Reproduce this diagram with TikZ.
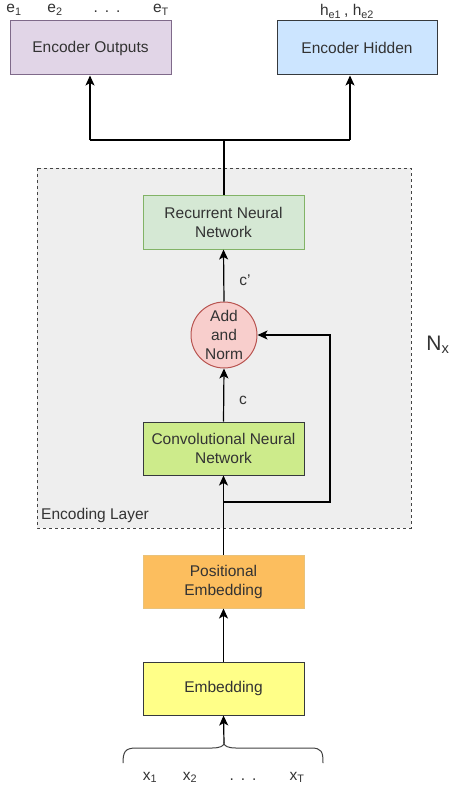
\documentclass[tikz,border=0pt]{standalone}
\usepackage{fontspec}
\setmainfont{Liberation Sans}
\usetikzlibrary{arrows.meta}
\definecolor{txt}{HTML}{333333}
\definecolor{eofill}{HTML}{E1D5E7}\definecolor{eodraw}{HTML}{7F6A8A}
\definecolor{ehfill}{HTML}{CCE5FF}\definecolor{ehdraw}{HTML}{36393D}
\definecolor{rnnfill}{HTML}{D5E8D4}\definecolor{rnndraw}{HTML}{82B366}
\definecolor{anfill}{HTML}{F8CECC}\definecolor{andraw}{HTML}{B85450}
\definecolor{cnnfill}{HTML}{CDEB8B}\definecolor{cnndraw}{HTML}{36393D}
\definecolor{pefill}{HTML}{FCBE5E}\definecolor{pedraw}{HTML}{E9C27A}
\definecolor{embfill}{HTML}{FFFF88}\definecolor{embdraw}{HTML}{36393D}
\definecolor{layerfill}{HTML}{EEEEEE}\definecolor{layerdraw}{HTML}{444444}
\tikzset{
  blk/.style={draw, line width=1pt, minimum width=161pt, minimum height=54pt,
    align=center, text=txt, font=\fontsize{15.5}{19}\selectfont, inner sep=0pt},
  lbl/.style={text=txt, font=\fontsize{15.5}{19}\selectfont, inner sep=0pt},
  conn/.style={line width=1.2pt, draw=black},
  arr/.style={conn, -{Stealth[length=10pt,width=9pt,inset=2.5pt]}},
}
\begin{document}
\begin{tikzpicture}[x=1pt,y=-1pt]
\useasboundingbox (0,0) rectangle (454,789);
% encoding layer
\draw[fill=layerfill, draw=layerdraw, dashed, line width=0.9pt] (37,168) rectangle (411,528);
\node[lbl, anchor=west] (layerlbl) at (41,515) {Encoding Layer};
\node[lbl, font=\fontsize{21}{24}\selectfont] (nx) at (438,345) {N\textsubscript{x}};
% blocks
\node[blk, fill=eofill, draw=eodraw] (eo) at (90.5,48) {Encoder Outputs};
\node[blk, fill=ehfill, draw=ehdraw, minimum width=160pt] (eh) at (357,48) {Encoder Hidden};
\node[blk, fill=rnnfill, draw=rnndraw] (rnn) at (223.5,222) {Recurrent Neural\\Network};
\node[circle, draw=andraw, fill=anfill, line width=1pt, minimum size=66pt, inner sep=0pt,
  align=center, text=txt, font=\fontsize{15.5}{19}\selectfont] (an) at (224,335) {Add\\and\\Norm};
\node[blk, fill=cnnfill, draw=cnndraw, minimum height=53pt] (cnn) at (223.5,448.5) {Convolutional Neural\\Network};
\node[blk, fill=pefill, draw=pedraw, minimum height=53pt] (pe) at (223.5,581.5) {Positional\\Embedding};
\node[blk, fill=embfill, draw=embdraw, minimum height=53pt] (emb) at (223.5,688.5) {Embedding};
% top labels
\node[lbl, anchor=base] (e1) at (14,13) {e\textsubscript{1}};
\node[lbl, anchor=base] (e2) at (55,13) {e\textsubscript{2}};
\node[lbl, anchor=base] (edots) at (107,13) {.\hspace{7pt}.\hspace{7pt}.};
\node[lbl, anchor=base] (eT) at (161,13) {e\textsubscript{T}};
\node[lbl, anchor=base] (he) at (347,16) {h\textsubscript{e1}\hspace{3pt}, h\textsubscript{e2}};
% bottom labels
\node[lbl, anchor=base] (x1) at (150,780) {x\textsubscript{1}};
\node[lbl, anchor=base] (x2) at (190,780) {x\textsubscript{2}};
\node[lbl, anchor=base] (xdots) at (243,780) {.\hspace{7pt}.\hspace{7pt}.};
\node[lbl, anchor=base] (xT) at (297,780) {x\textsubscript{T}};
% edge labels
\node[lbl] (cp) at (245,280) {c'};
\node[lbl] (cl) at (243,400) {c};
% coordinates
\coordinate (junc) at (224,140);
\coordinate (jl) at (90,140);
\coordinate (jr) at (350,140);
\coordinate (split) at (224,502);
\coordinate (fb1) at (330,502);
\coordinate (fb2) at (330,335);
\coordinate (tip) at (224,743);
% connectors
\draw[conn] (rnn.north -| junc) -- (junc);
\draw[arr] (jl) -- (jl |- eo.south);
\draw[conn] (jl) -- (jr);
\draw[arr] (jr) -- (jr |- eh.south);
\draw[arr] (an.north) -- (rnn.south);
\draw[arr] (cnn.north) -- (an.south);
\draw[arr] (pe.north) -- (cnn.south);
\draw[arr] (split) -- (fb1) -- (fb2) -- (an.east);
\draw[arr] (emb.north) -- (pe.south);
\draw[arr] (tip) -- (emb.south);
% brace
\draw[line width=1pt, draw=black!75] (123,763) .. controls (123,752) and (125,748) .. (136,748)
  -- (212,748) .. controls (220,748) and (224,746) .. (tip)
  .. controls (224,746) and (228,748) .. (236,748)
  -- (311,748) .. controls (322,748) and (323,752) .. (323,763);
\end{tikzpicture}
\end{document}
